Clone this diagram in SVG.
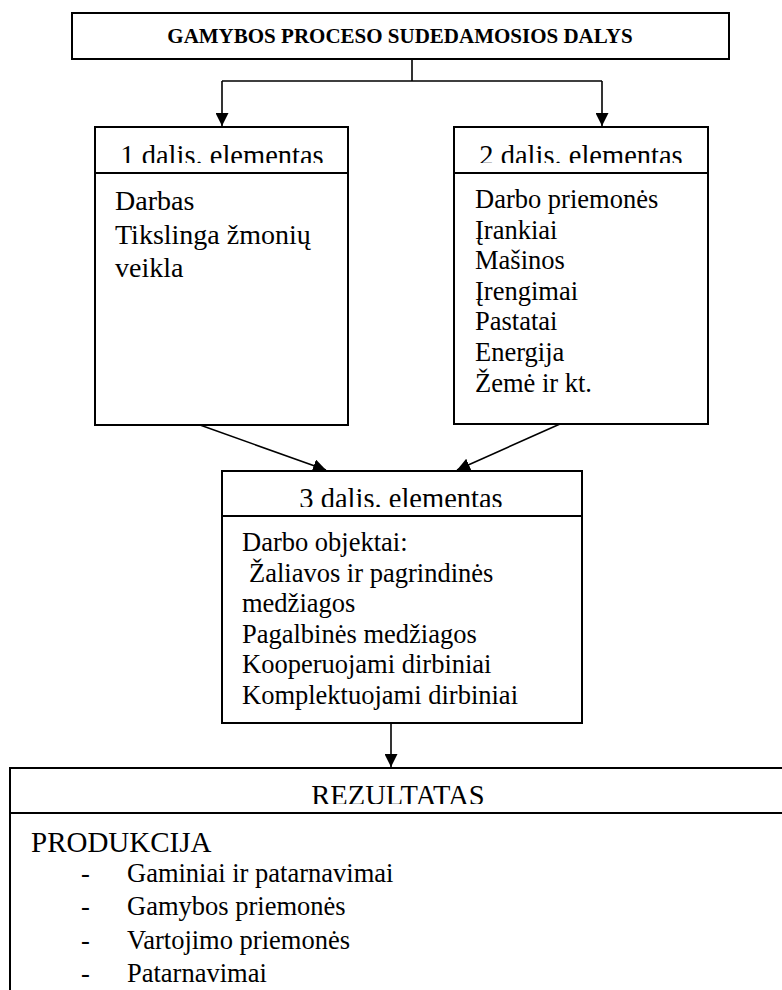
<svg xmlns="http://www.w3.org/2000/svg" width="782" height="990" viewBox="0 0 782 990">
  <style>
    .box { fill: #fff; stroke: #000; stroke-width: 2; }
    .div { stroke: #000; stroke-width: 2; }
    .con { fill: none; stroke: #000; stroke-width: 1.6; }
    text { font-family: "Liberation Serif", "Times New Roman", serif; fill: #000; }
    .title { font-size: 21px; font-weight: bold; text-anchor: middle; }
    .head { font-size: 28.5px; text-anchor: middle; }
    .b1 { font-size: 28px; }
    .b2 { font-size: 26.5px; }
    .big { font-size: 29px; }
  </style>
  <defs>
    <marker id="arrow" viewBox="0 0 10 10" refX="10" refY="5" markerWidth="13" markerHeight="13" markerUnits="userSpaceOnUse" orient="auto">
      <path d="M0,0 L10,5 L0,10 Z" fill="#000"/>
    </marker>
    <clipPath id="clip1"><rect x="96" y="128" width="251" height="35"/></clipPath>
    <clipPath id="clip2"><rect x="455" y="128" width="252" height="35"/></clipPath>
    <clipPath id="clip3"><rect x="223" y="472" width="358" height="35"/></clipPath>
    <clipPath id="clip4"><rect x="11" y="769" width="780" height="35"/></clipPath>
  </defs>

  <!-- connectors -->
  <g id="connectors">
    <path class="con" d="M412,59 V81 M222,81 H602"/>
    <path class="con" d="M222,81 V126" marker-end="url(#arrow)"/>
    <path class="con" d="M602,81 V126" marker-end="url(#arrow)"/>
    <path class="con" d="M200,425 L326,470" marker-end="url(#arrow)"/>
    <path class="con" d="M560,424 L457,470" marker-end="url(#arrow)"/>
    <path class="con" d="M391,723 V767" marker-end="url(#arrow)"/>
  </g>

  <!-- top node -->
  <g id="top">
    <rect class="box" x="72" y="13" width="657" height="46"/>
    <text class="title" x="400" y="43">GAMYBOS PROCESO SUDEDAMOSIOS DALYS</text>
  </g>

  <!-- part 1 -->
  <g id="part1">
    <rect class="box" x="95" y="127" width="253" height="298"/>
    <line class="div" x1="95" y1="173" x2="348" y2="173"/>
    <text class="head" x="222" y="165" clip-path="url(#clip1)">1 dalis. elementas</text>
    <text class="b1" x="115" y="210">Darbas</text>
    <text class="b1" x="115" y="244">Tikslinga žmonių</text>
    <text class="b1" x="115" y="277">veikla</text>
  </g>

  <!-- part 2 -->
  <g id="part2">
    <rect class="box" x="454" y="127" width="254" height="297"/>
    <line class="div" x1="454" y1="173" x2="708" y2="173"/>
    <text class="head" x="581" y="165" clip-path="url(#clip2)">2 dalis. elementas</text>
    <text class="b2" x="475" y="208">Darbo priemonės</text>
    <text class="b2" x="475" y="238.6">Įrankiai</text>
    <text class="b2" x="475" y="269.2">Mašinos</text>
    <text class="b2" x="475" y="299.8">Įrengimai</text>
    <text class="b2" x="475" y="330.4">Pastatai</text>
    <text class="b2" x="475" y="361">Energija</text>
    <text class="b2" x="475" y="391.6">Žemė ir kt.</text>
  </g>

  <!-- part 3 -->
  <g id="part3">
    <rect class="box" x="222" y="471" width="360" height="252"/>
    <line class="div" x1="222" y1="516" x2="582" y2="516"/>
    <text class="head" x="401" y="508" clip-path="url(#clip3)">3 dalis. elementas</text>
    <text class="b2" x="242" y="551">Darbo objektai:</text>
    <text class="b2" x="249" y="581.5">Žaliavos ir pagrindinės</text>
    <text class="b2" x="242" y="612">medžiagos</text>
    <text class="b2" x="242" y="642.5">Pagalbinės medžiagos</text>
    <text class="b2" x="242" y="673">Kooperuojami dirbiniai</text>
    <text class="b2" x="242" y="703.5">Komplektuojami dirbiniai</text>
  </g>

  <!-- result -->
  <g id="result">
    <rect class="box" x="10" y="768" width="800" height="240"/>
    <line class="div" x1="10" y1="813" x2="782" y2="813"/>
    <text class="head" x="398" y="805" clip-path="url(#clip4)">REZULTATAS</text>
    <text class="big" x="31" y="852">PRODUKCIJA</text>
    <text class="b2" x="81" y="882">-</text>
    <text class="b2" x="127" y="882">Gaminiai ir patarnavimai</text>
    <text class="b2" x="81" y="915">-</text>
    <text class="b2" x="127" y="915">Gamybos priemonės</text>
    <text class="b2" x="81" y="949">-</text>
    <text class="b2" x="127" y="949">Vartojimo priemonės</text>
    <text class="b2" x="81" y="982">-</text>
    <text class="b2" x="127" y="982">Patarnavimai</text>
  </g>
</svg>
